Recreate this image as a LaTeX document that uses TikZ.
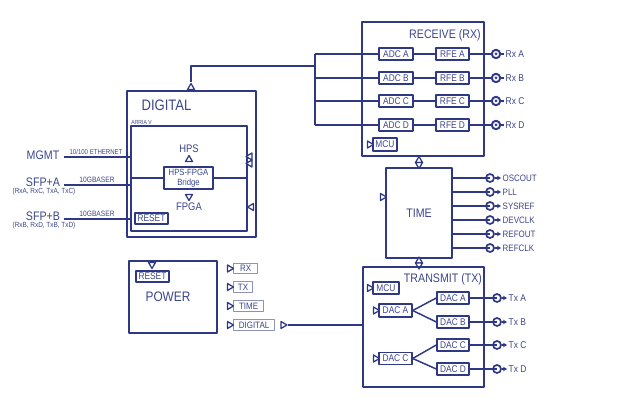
\documentclass[tikz,border=0pt]{standalone}
\usepackage{fontspec}
\setmainfont{Liberation Sans}[FakeStretch=0.86]
\usetikzlibrary{shapes.geometric,arrows.meta}
\definecolor{navy}{RGB}{46,56,132}
\definecolor{navytext}{RGB}{60,70,140}
\newcommand{\txtsz}[1]{\fontsize{#1}{#1}\selectfont}

\begin{document}
\begin{tikzpicture}[x=0.025cm, y=-0.025cm, line join=round,
		wire/.style={draw=navy, line width=1.05pt},
		frame/.style={draw=navy, line width=1.25pt, inner sep=0pt, text=navytext},
		sbox/.style={draw=navy, line width=1pt, inner sep=0pt, text=navytext, font=\txtsz{6.9}},
		sz/.style 2 args={minimum width=#1*0.025cm, minimum height=#2*0.025cm},
		tag/.style={draw=navy!55, line width=0.8pt, inner sep=0pt, text=navytext, font=\txtsz{6.6}, minimum height=0.26cm},
		port/.style={regular polygon, regular polygon sides=3, draw=navy, fill=white, line width=0.9pt, inner sep=0pt, minimum size=0.2cm},
		pup/.style={port}, pdown/.style={port, shape border rotate=180},
		pright/.style={port, shape border rotate=-90}, pleft/.style={port, shape border rotate=90},
		coax/.style={circle, draw=navy, fill=white, line width=1.4pt, inner sep=0pt, minimum size=0.21cm},
		lbl/.style={text=navytext, inner sep=1pt}]
	% fond
	\fill[white] (0,0) rectangle (641,400);

	% A. RECEIVE (RX)
	\node[frame, sz={122}{134}] (rx) at (423,89) {};
	\node[lbl, font=\txtsz{8.8}] (rxT) at (445,35) {RECEIVE (RX)};
	\foreach \ch/\y in {A/54,B/78,C/101,D/125} {
		\node[sbox, sz={34}{12}] (adc\ch) at (396,\y) {ADC \ch};
		\node[sbox, sz={33}{12}] (rfe\ch) at (452.5,\y) {RFE \ch};
		\node[coax] (rxc\ch) at (496,\y) {};
		\node[lbl, anchor=west, font=\txtsz{7}] (rxl\ch) at (504,\y) {Rx \ch};
		\coordinate (bus\ch) at (315,\y);
		\draw[wire] (bus\ch) -- (adc\ch) -- (rfe\ch) -- (rxc\ch);
		\draw[wire] (rxc\ch) -- (rxl\ch);
		\fill[navy] (rxc\ch) circle (1.5);
	}
	\node[sbox, sz={24}{13}] (rxmcu) at (385,144.5) {MCU};
	\node[pright] (rxmcuP) at (369.5,144.5) {};

	% B. DIGITAL
	\node[frame, sz={129}{146}] (dig) at (191.5,164) {};
	\node[lbl, font=\txtsz{10.8}] (digT) at (166.5,105) {DIGITAL};
	\node[frame, line width=1pt, sz={116}{105}] (arria) at (189,178.5) {};
	\node[lbl, anchor=south west, font=\txtsz{4.2}, inner sep=0.6pt] (arriaT) at (arria.north west) {ARRIA V};
	\node[pup] (digP) at (191,87.5) {};
	\node[lbl, font=\txtsz{7.8}] (hps) at (189,149) {HPS};
	\node[pup] (hpsP) at (189,159.5) {};
	\node[sbox, line width=1.5pt, sz={49}{22}, align=center, font=\fontsize{6.4}{7.4}\selectfont] (bridge) at (188.5,178) {HPS-FPGA\\Bridge};
	\node[pdown] (fpgaP) at (189,196.5) {};
	\node[lbl, font=\txtsz{7.8}] (fpga) at (189,207) {FPGA};
	\node[sbox, sz={33}{11}] (digrst) at (151.5,218.5) {RESET};
	\draw[wire] (arria.west |- bridge) -- (bridge);
	\draw[wire] (bridge) -- (arria.east |- bridge);
	\node[pleft] (digR1) at (250,156.5) {};
	\node[pleft] (digR2) at (250,163.5) {};
	\node[pleft] (digR3) at (251.5,207) {};

	% bus vers RX
	\coordinate (busJ) at (315,66);
	\draw[wire] (busA) -- (busD);
	\draw[wire] (digP.north) |- (busJ);

	% entrees
	\node[lbl, font=\txtsz{8.8}] (mgmt) at (43,155) {MGMT};
	\node[lbl, font=\txtsz{8.8}] (sfpa) at (43,182) {SFP+A};
	\node[lbl, font=\txtsz{5.3}] (sfpaS) at (44,192) {(RxA, RxC, TxA, TxC)};
	\node[lbl, font=\txtsz{8.8}] (sfpb) at (43,216) {SFP+B};
	\node[lbl, font=\txtsz{5.3}] (sfpbS) at (44,226) {(RxB, RxD, TxB, TxD)};
	\coordinate (mgmtE) at (64,157);
	\coordinate (sfpaE) at (64,185);
	\coordinate (sfpbE) at (64,219);
	\draw[wire] (mgmtE) -- (arria.west |- mgmtE);
	\draw[wire] (sfpaE) -- (arria.west |- sfpaE);
	\draw[wire] (sfpbE) -- (arria.west |- sfpbE);
	\node[lbl, anchor=south, font=\txtsz{5}] (eth) at (96,156) {10/100 ETHERNET};
	\node[lbl, anchor=south, font=\txtsz{5.5}] (gba) at (97,184) {10GBASER};
	\node[lbl, anchor=south, font=\txtsz{5.5}] (gbb) at (97,218) {10GBASER};

	% C. TIME
	\node[frame, sz={66}{90}, font=\txtsz{8.8}] (time) at (419,213) {TIME};
	\node[pright] (timeP) at (382.5,197) {};
	\node[pup] (rtU) at (419,160.5) {};
	\node[pdown] (rtD) at (419,164.6) {};
	\node[pup] (ttU) at (419,261) {};
	\node[pdown] (ttD) at (419,265) {};
	\foreach \s [count=\i] in {OSCOUT,PLL,SYSREF,DEVCLK,REFOUT,REFCLK} {
		\pgfmathsetmacro{\yy}{164+14*\i}
		\node[coax, line width=1.2pt, minimum size=0.2cm, fill=none] (ck\i) at (490,\yy) {};
		\node[lbl, anchor=west, font=\txtsz{6.6}] (ckl\i) at (501,\yy) {\s};
		\draw[wire] (time.east |- ck\i) -- (ck\i.center);
		\draw[wire, -{Stealth[length=2.8pt, width=3.2pt]}] (ck\i) -- (ckl\i);
	}

	% D. TRANSMIT (TX)
	\node[frame, sz={121}{120}] (tx) at (423.5,327) {};
	\node[lbl, font=\txtsz{8.8}] (txT) at (443,279) {TRANSMIT (TX)};
	\node[sbox, sz={26}{12}] (txmcu) at (386,288) {MCU};
	\node[pright] (txmcuP) at (369.5,288) {};
	\node[sbox, sz={33}{13}] (dinA) at (395.5,310.5) {DAC A};
	\node[pright] (dinAP) at (375.5,310.5) {};
	\node[sbox, sz={33}{12}] (dinC) at (395.5,358.5) {DAC C};
	\node[pright] (dinCP) at (375.5,358.5) {};
	\foreach \ch/\y/\src in {A/298/dinA, B/322/dinA, C/345/dinC, D/369/dinC} {
		\node[sbox, sz={32}{12}] (dac\ch) at (453,\y) {DAC \ch};
		\node[coax, line width=1.2pt, minimum size=0.2cm, fill=none] (txc\ch) at (497,\y) {};
		\node[lbl, anchor=west, font=\txtsz{7}] (txl\ch) at (507,\y) {Tx \ch};
		\draw[wire] (\src.east) -- (dac\ch.west);
		\draw[wire] (dac\ch) -- (txc\ch.center);
		\draw[wire, -{Stealth[length=2.8pt, width=3.2pt]}] (txc\ch) -- (txl\ch);
	}
	\node[pright] (txP) at (283,325) {};
	\draw[wire] (txP) -- (tx.west |- txP);

	% E. POWER
	\node[frame, sz={88}{72}] (pwr) at (173,297) {};
	\node[lbl, font=\txtsz{9.8}] (pwrT) at (168,297) {POWER};
	\node[sbox, sz={33}{11}] (pwrrst) at (152.5,276.5) {RESET};
	\node[pdown] (pwrP) at (152,264.5) {};
	\foreach \t/\w/\y in {RX/24/268.5, TX/19/287, TIME/30/306, DIGITAL/41/325} {
		\node[tag, minimum width=\w*0.025cm, anchor=west] (tag\t) at (233,\y) {\t};
		\node[pright] (tagp\t) at (229.5,\y) {};
	}
\end{tikzpicture}
\end{document}
